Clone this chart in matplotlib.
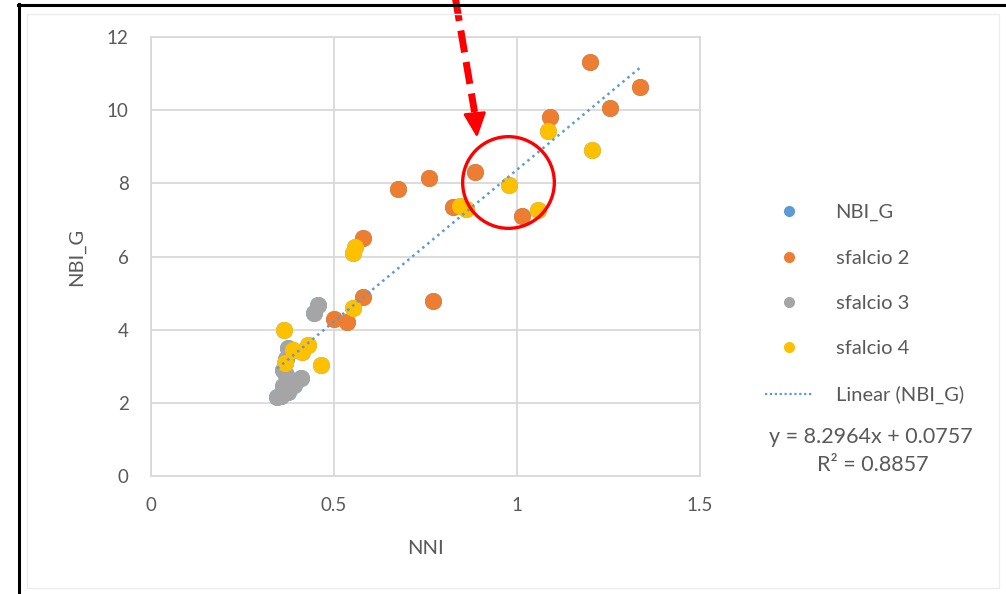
import matplotlib.pyplot as plt
from matplotlib.lines import Line2D
from matplotlib.patches import Rectangle

# data
sf2_x = [1.20, 1.335, 1.255, 1.09, 0.885, 0.76, 0.675, 0.825, 1.015, 0.58, 0.77, 0.58, 0.50, 0.535]
sf2_y = [11.33, 10.62, 10.07, 9.82, 8.32, 8.15, 7.85, 7.36, 7.11, 6.51, 4.77, 4.90, 4.28, 4.22]
sf3_x = [0.455, 0.445, 0.375, 0.37, 0.36, 0.37, 0.38, 0.41, 0.36, 0.375, 0.355, 0.345, 0.39]
sf3_y = [4.68, 4.46, 3.50, 3.20, 2.90, 2.75, 2.60, 2.68, 2.45, 2.30, 2.20, 2.15, 2.50]
sf4_x = [1.085, 1.205, 0.978, 1.057, 0.845, 0.86, 0.552, 0.558, 0.552, 0.363, 0.464, 0.429, 0.413, 0.388, 0.366]
sf4_y = [9.44, 8.92, 7.96, 7.28, 7.38, 7.30, 6.10, 6.25, 4.60, 3.99, 3.04, 3.58, 3.39, 3.45, 3.09]
nbi_x = sf2_x + sf3_x + sf4_x
nbi_y = sf2_y + sf3_y + sf4_y

slope, intercept = 8.2964, 0.0757
r2 = 0.8857

x_ticks = [0, 0.5, 1, 1.5]
x_labels = ['0', '0.5', '1', '1.5']
y_ticks = [0, 2, 4, 6, 8, 10, 12]

# circled point and arrow
circle_xy = (0.975, 8.04)
arrow_start = (0.831, 13.1)
arrow_base = (0.884, 9.95)
arrow_tip = (0.891, 9.25)

BLUE = '#5B9BD5'
ORANGE = '#ED7D31'
GREY = '#A5A5A5'
YELLOW = '#FFC000'
TXT = '#595959'

plt.rcParams['font.family'] = ['Lato', 'DejaVu Sans']

fig = plt.figure(figsize=(10.06, 5.94), dpi=100)
ax = fig.add_axes([151 / 1006, 1 - 476 / 594, 549 / 1006, 439 / 594])

s = 150
ax.scatter(nbi_x, nbi_y, s=s, color=BLUE, lw=0, zorder=3)
ax.scatter(sf2_x, sf2_y, s=s, color=ORANGE, lw=0, zorder=4)
ax.scatter(sf3_x, sf3_y, s=s, color=GREY, lw=0, zorder=5)
ax.scatter(sf4_x, sf4_y, s=s, color=YELLOW, lw=0, zorder=6)

x0, x1 = min(nbi_x), max(nbi_x)
ax.plot([x0, x1], [slope * x0 + intercept, slope * x1 + intercept],
        color=BLUE, lw=1.8, ls=(0, (1, 1.6)), zorder=7)

ax.set_xlim(0, 1.5)
ax.set_ylim(0, 12)
ax.set_xticks(x_ticks, x_labels)
ax.set_yticks(y_ticks)
ax.grid(True, color='#d9d9d9', lw=1.3)
ax.set_axisbelow(True)
for sp in ax.spines.values():
    sp.set_color('#d9d9d9')
    sp.set_linewidth(1.3)
ax.tick_params(length=0, labelsize=13.5, colors=TXT)
ax.tick_params(axis='x', pad=15)
ax.tick_params(axis='y', pad=16)
ax.set_xlabel('NNI', fontsize=14.5, color=TXT, labelpad=19)
ax.set_ylabel('NBI_G', fontsize=14.5, color=TXT, labelpad=16)

# red circle and dashed arrow
ax.plot(*circle_xy, marker='o', ms=66, mfc='none', mec='#ff0000', mew=2.4,
        clip_on=False, zorder=10)
ax.plot([arrow_start[0], arrow_base[0]], [arrow_start[1], arrow_base[1]],
        color='#ff0000', lw=5, ls=(0, (3.2, 1.4)), clip_on=False, zorder=10,
        solid_capstyle='butt', dash_capstyle='butt')
ax.annotate('', xy=arrow_tip, xytext=arrow_base, annotation_clip=False,
            arrowprops=dict(arrowstyle='-|>,head_length=1.5,head_width=0.7',
                            color='#ff0000', lw=2, shrinkA=0, shrinkB=0),
            zorder=10)

# legend
handles = [
    Line2D([], [], ls='none', marker='o', ms=8, mfc=BLUE, mec='none'),
    Line2D([], [], ls='none', marker='o', ms=8, mfc=ORANGE, mec='none'),
    Line2D([], [], ls='none', marker='o', ms=8, mfc=GREY, mec='none'),
    Line2D([], [], ls='none', marker='o', ms=8, mfc=YELLOW, mec='none'),
    Line2D([], [], color=BLUE, lw=1.6, ls=(0, (1, 1.2))),
]
labels = ['NBI_G', 'sfalcio 2', 'sfalcio 3', 'sfalcio 4', 'Linear (NBI_G)']
leg = fig.legend(handles, labels, loc='upper left', bbox_to_anchor=(755 / 1006, 1 - 194 / 594),
                 frameon=False, fontsize=14.5, labelspacing=1.40, handlelength=2.4,
                 handletextpad=1.1, borderpad=0)
for t in leg.get_texts():
    t.set_color(TXT)

fig.text(871 / 1006, 1 - 437 / 594, f'y = {slope}x + {intercept}', ha='center', va='center',
         fontsize=15.5, color=TXT)
fig.text(873 / 1006, 1 - 465 / 594, f'R² = {r2}', ha='center', va='center',
         fontsize=15.5, color=TXT)

# faint chart-area border and the black frame of the screenshot
fig.add_artist(Rectangle((27 / 1006, 6 / 594), 972 / 1006, 574 / 594, transform=fig.transFigure,
                         fill=False, ec='#ececec', lw=1))
fig.add_artist(Line2D([18 / 1006, 1], [1 - 5 / 594, 1 - 5 / 594], color='black', lw=2.2))
fig.add_artist(Line2D([19 / 1006, 19 / 1006], [0, 1 - 4 / 594], color='black', lw=2.2))

fig.savefig('out.png', dpi=100)
